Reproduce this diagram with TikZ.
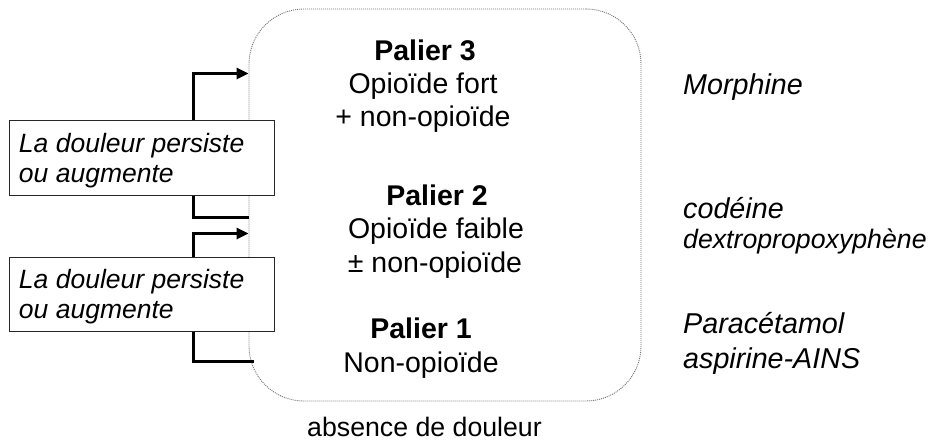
\documentclass[tikz,border=0pt]{standalone}
\usepackage{fontspec}
\setmainfont{Liberation Sans}
\usetikzlibrary{arrows.meta}
\begin{document}
\begin{tikzpicture}[x=1pt,y=-1pt,
  txt/.style={inner sep=0pt, anchor=base, font=\fontsize{28.5}{33}\selectfont},
  btxt/.style={txt, font=\bfseries\fontsize{28.5}{33}\selectfont},
  rtxt/.style={inner sep=0pt, anchor=base west, font=\itshape\fontsize{28.7}{33}\selectfont},
  rsmall/.style={rtxt, font=\itshape\fontsize{26.7}{30}\selectfont},
  lbox/.style={draw=black!85, line width=1pt, fill=white, minimum width=265pt, minimum height=74pt,
    inner sep=0pt, align=flush left, text width=245pt, text height=23.6pt,
    font=\itshape\fontsize{26.5}{30}\selectfont},
  mainbox/.style={draw=black!55, line width=0.9pt, dash pattern=on 1pt off 1pt, rounded corners=55pt,
    minimum width=392pt, minimum height=392pt, inner sep=0pt},
  flow/.style={line width=3pt, draw=black},
  flowarr/.style={flow, -{Triangle[length=12pt,width=11pt]}}
]
\useasboundingbox (0,0) rectangle (930,444);

% main rounded box
\node[mainbox] (main) at (445,205) {};

% centre texts
\node[btxt] (p3a) at (425,61) {Palier 3};
\node[txt]  (p3b) at (423,94) {Opioïde fort};
\node[txt]  (p3c) at (423,127) {+ non-opioïde};
\node[btxt] (p2a) at (437,205) {Palier 2};
\node[txt]  (p2b) at (436,238) {Opioïde faible};
\node[txt]  (p2c) at (435,272) {± non-opioïde};
\node[btxt] (p1a) at (421,338) {Palier 1};
\node[txt]  (p1b) at (421,372) {Non-opioïde};
\node[txt, font=\fontsize{26.7}{30}\selectfont] (abs) at (424.5,436) {absence de douleur};

% right column
\node[rtxt]   (r3)  at (683,95)  {Morphine};
\node[rtxt]   (r2a) at (683,218) {codéine};
\node[rsmall] (r2b) at (683,248) {dextropropoxyphène};
\node[rtxt]   (r1a) at (683,333) {Paracétamol};
\node[rtxt]   (r1b) at (683,368) {aspirine-AINS};

% left boxes
\node[lbox] (box1) at (141.5,158) {\mbox{La douleur persiste}\\\mbox{ou augmente}};
\node[lbox] (box2) at (141.5,294) {\mbox{La douleur persiste}\\\mbox{ou augmente}};

% helper coordinates
\coordinate (y3) at (0,73.5);
\coordinate (y2b) at (0,217.5);
\coordinate (y2t) at (0,233.5);
\coordinate (e1) at (254,361.5);

% connectors
\draw[flowarr] ([xshift=51.5pt]box1.north) |- (main.west |- y3);
\draw[flow] ([xshift=51.5pt]box1.south) |- (main.west |- y2b);
\draw[flowarr] ([xshift=51.5pt]box2.north) |- (main.west |- y2t);
\draw[flow] ([xshift=51.5pt]box2.south) |- (e1);
\end{tikzpicture}
\end{document}
